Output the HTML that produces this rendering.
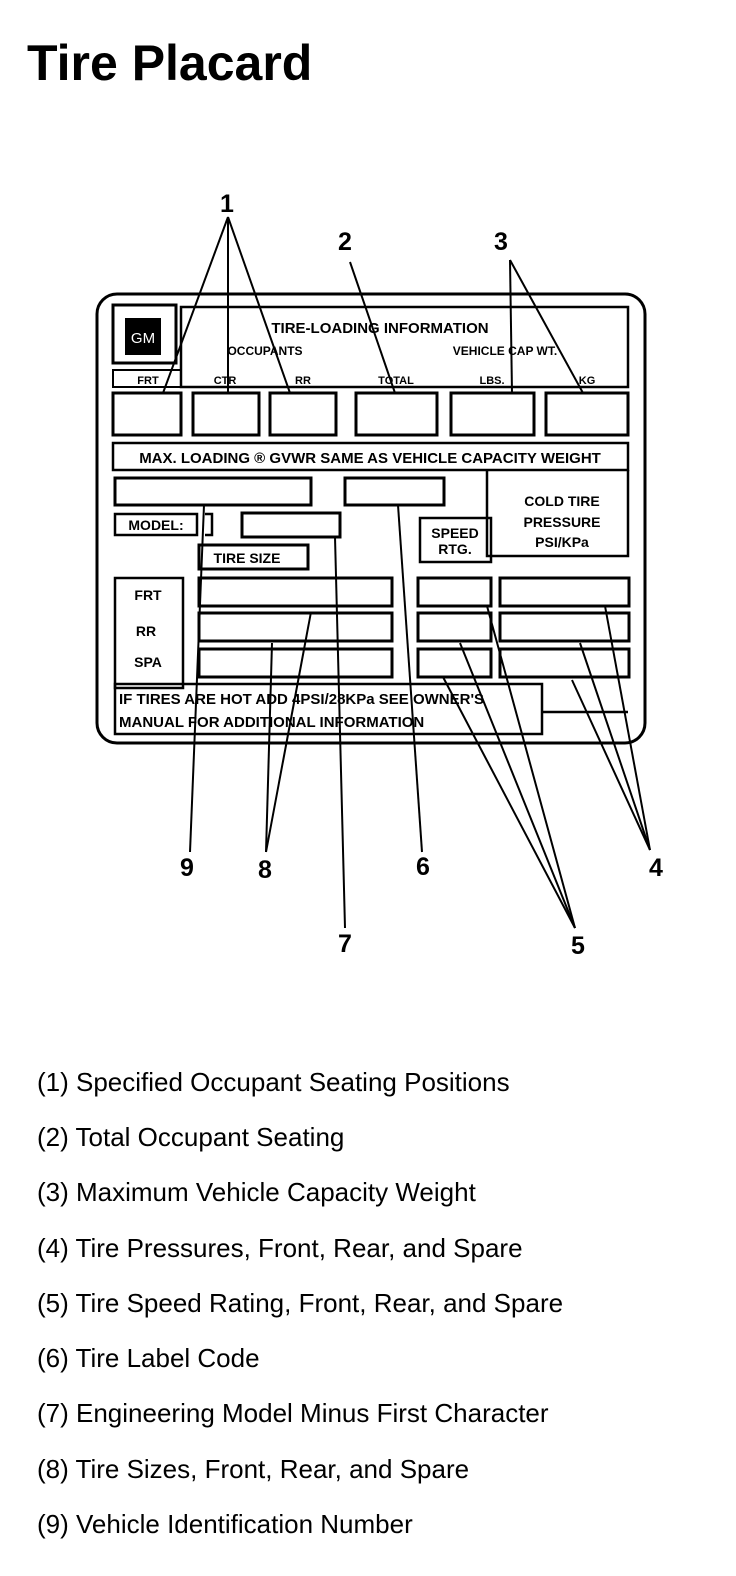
<!DOCTYPE html>
<html><head><meta charset="utf-8"><style>
body{margin:0;background:#fff;width:736px;height:1576px;overflow:hidden;font-family:"Liberation Sans",Arial,sans-serif}
svg{position:absolute;left:0;top:0}
</style></head><body>
<svg width="736" height="1576" viewBox="0 0 736 1576" font-family="Liberation Sans, Arial, sans-serif">
<text x="27" y="80" font-size="50" font-weight="bold">Tire Placard</text>
<g fill="none" stroke="#000">
<rect x="97" y="294" width="548" height="449" rx="20" stroke-width="3"/>
<rect x="113" y="305" width="63" height="58" stroke-width="3"/>
<rect x="181" y="307" width="447" height="80" stroke-width="2.5"/>
<rect x="113" y="370" width="68" height="17" stroke-width="2"/>
<g stroke-width="3">
<rect x="113" y="393" width="68" height="42"/>
<rect x="193" y="393" width="66" height="42"/>
<rect x="270" y="393" width="66" height="42"/>
<rect x="356" y="393" width="81" height="42"/>
<rect x="451" y="393" width="83" height="42"/>
<rect x="546" y="393" width="82" height="42"/>
<rect x="115" y="478" width="196" height="27"/>
<rect x="345" y="478" width="99" height="27"/>
<rect x="242" y="513" width="98" height="24"/>
<rect x="199" y="545" width="109" height="24"/>
<rect x="199" y="578" width="193" height="28"/>
<rect x="199" y="613" width="193" height="28"/>
<rect x="199" y="649" width="193" height="28"/>
<rect x="418" y="578" width="73" height="28"/>
<rect x="418" y="613" width="73" height="28"/>
<rect x="418" y="649" width="73" height="28"/>
<rect x="500" y="578" width="129" height="28"/>
<rect x="500" y="613" width="129" height="28"/>
<rect x="500" y="649" width="129" height="28"/>
</g>
<g stroke-width="2.5">
<rect x="113" y="443" width="515" height="27"/>
<polyline points="487,470 487,556 628,556 628,470"/>
<rect x="115" y="514" width="82" height="21"/>
<polyline points="205,514 212,514 212,535 205,535"/>
<rect x="420" y="518" width="71" height="44"/>
<rect x="115" y="578" width="68" height="110"/>
<rect x="115" y="684" width="427" height="50"/>
<line x1="542" y1="712" x2="628" y2="712"/>
</g>
<g stroke-width="2">
<line x1="228" y1="217" x2="163" y2="393"/>
<line x1="228" y1="217" x2="228" y2="393"/>
<line x1="228" y1="217" x2="290" y2="393"/>
<line x1="350" y1="262" x2="395" y2="393"/>
<line x1="510" y1="260" x2="512" y2="393"/>
<line x1="510" y1="260" x2="583" y2="393"/>
<line x1="190" y1="852" x2="204" y2="505"/>
<line x1="266" y1="852" x2="272" y2="643"/>
<line x1="266" y1="852" x2="311" y2="612"/>
<line x1="345" y1="928" x2="335" y2="537"/>
<line x1="422" y1="852" x2="398" y2="505"/>
<line x1="575" y1="928" x2="443" y2="677"/>
<line x1="575" y1="928" x2="460" y2="643"/>
<line x1="575" y1="928" x2="487" y2="606"/>
<line x1="650" y1="850" x2="572" y2="680"/>
<line x1="650" y1="850" x2="580" y2="643"/>
<line x1="650" y1="850" x2="605" y2="606"/>
</g>
</g>
<rect x="125" y="318" width="36" height="37" fill="#000"/>
<text x="143" y="343" font-size="15" fill="#fff" text-anchor="middle">GM</text>
<g font-size="13" text-anchor="middle" font-weight="bold">
<text x="380" y="333" font-size="15">TIRE-LOADING INFORMATION</text>
<text x="265" y="355" font-size="12">OCCUPANTS</text>
<text x="505" y="355" font-size="12">VEHICLE CAP WT.</text>
<text x="148" y="384" font-size="11">FRT</text>
<text x="225" y="384" font-size="11">CTR</text>
<text x="303" y="384" font-size="11">RR</text>
<text x="396" y="384" font-size="11">TOTAL</text>
<text x="492" y="384" font-size="11">LBS.</text>
<text x="587" y="384" font-size="11">KG</text>
<text x="370" y="463" font-size="15">MAX. LOADING ® GVWR SAME AS VEHICLE CAPACITY WEIGHT</text>
<text x="562" y="506" font-size="14">COLD TIRE</text>
<text x="562" y="527" font-size="14">PRESSURE</text>
<text x="562" y="547" font-size="14">PSI/KPa</text>
<text x="156" y="530" font-size="14">MODEL:</text>
<text x="455" y="538" font-size="14">SPEED</text>
<text x="455" y="554" font-size="14">RTG.</text>
<text x="247" y="563" font-size="14">TIRE SIZE</text>
<text x="148" y="600" font-size="14">FRT</text>
<text x="146" y="636" font-size="14">RR</text>
<text x="148" y="667" font-size="14">SPA</text>
</g>
<g font-size="15" font-weight="bold">
<text x="119" y="704">IF TIRES ARE HOT ADD 4PSI/28KPa SEE OWNER'S</text>
<text x="119" y="727">MANUAL FOR ADDITIONAL INFORMATION</text>
</g>
<g font-size="25" text-anchor="middle" font-weight="bold">
<text x="227" y="212">1</text>
<text x="345" y="250">2</text>
<text x="501" y="250">3</text>
<text x="187" y="876">9</text>
<text x="265" y="878">8</text>
<text x="423" y="875">6</text>
<text x="656" y="876">4</text>
<text x="345" y="952">7</text>
<text x="578" y="954">5</text>
</g>
<g font-size="26">
<text x="37" y="1091">(1) Specified Occupant Seating Positions</text>
<text x="37" y="1146">(2) Total Occupant Seating</text>
<text x="37" y="1201">(3) Maximum Vehicle Capacity Weight</text>
<text x="37" y="1257">(4) Tire Pressures, Front, Rear, and Spare</text>
<text x="37" y="1312">(5) Tire Speed Rating, Front, Rear, and Spare</text>
<text x="37" y="1367">(6) Tire Label Code</text>
<text x="37" y="1422">(7) Engineering Model Minus First Character</text>
<text x="37" y="1478">(8) Tire Sizes, Front, Rear, and Spare</text>
<text x="37" y="1533">(9) Vehicle Identification Number</text>
</g>
</svg>
</body></html>
